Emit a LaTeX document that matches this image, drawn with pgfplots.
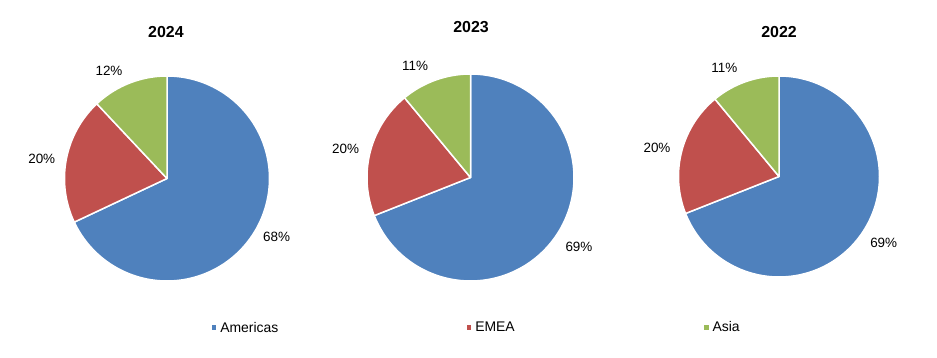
\documentclass[border=0pt]{standalone}
\usepackage{pgfplots}
\pgfplotsset{compat=1.18}
\usepackage{pgfplotstable}
\usepackage{fontspec}
\setmainfont{Liberation Sans}
\definecolor{amer}{HTML}{4F81BD}
\definecolor{emea}{HTML}{C0504D}
\definecolor{asia}{HTML}{9BBB59}

\pgfplotstableread{
region   y2024 y2023 y2022
Americas 68    69    69
EMEA     20    20    20
Asia     12    11    11
}\shares

\pgfplotsset{
  pieaxis/.style={
    anchor=center, scale only axis, hide axis, clip=false,
    xmin=-1, xmax=1, ymin=-1, ymax=1,
    legend image code/.code={\fill[##1, draw=none] (0bp,-2.3bp) rectangle (4.6bp,2.3bp);},
    legend style={draw=none, fill=none, inner sep=0pt, anchor=west,
      font=\fontsize{14}{16}\selectfont,
      nodes={inner xsep=4bp, inner ysep=0bp}},
  },
  slice/.style={draw=white, line width=1.5bp, line join=round, samples=120, variable=\t, forget plot},
}
\newcommand\lab{\fontsize{13.5}{16}\selectfont}
\newcommand\ttl{\fontsize{16}{18}\selectfont\bfseries}

\begin{document}
\begin{tikzpicture}
\useasboundingbox (0,0) rectangle (937bp,358bp);
% angles from the data
\pgfplotstablegetelem{2}{y2024}\of\shares \pgfmathsetmacro\AsiaEndA{90+3.6*\pgfplotsretval}
\pgfplotstablegetelem{1}{y2024}\of\shares \pgfmathsetmacro\EmeaEndA{\AsiaEndA+3.6*\pgfplotsretval}
\pgfplotstablegetelem{2}{y2023}\of\shares \pgfmathsetmacro\AsiaEndB{90+3.6*\pgfplotsretval}
\pgfplotstablegetelem{1}{y2023}\of\shares \pgfmathsetmacro\EmeaEndB{\AsiaEndB+3.6*\pgfplotsretval}
\pgfplotstablegetelem{2}{y2022}\of\shares \pgfmathsetmacro\AsiaEndC{90+3.6*\pgfplotsretval}
\pgfplotstablegetelem{1}{y2022}\of\shares \pgfmathsetmacro\EmeaEndC{\AsiaEndC+3.6*\pgfplotsretval}

% ---- 2024
\begin{axis}[pieaxis, at={(167bp,179.5bp)}, width=205bp, height=205bp,
  legend style={at={(0.717,-0.228)}}]
\addlegendimage{fill=amer}\addlegendentry{Americas}
\addplot[slice, fill=amer, domain=\EmeaEndA:450] ({cos(\t)},{sin(\t)}) -- (axis cs:0,0) -- cycle;
\addplot[slice, fill=emea, domain=\AsiaEndA:\EmeaEndA] ({cos(\t)},{sin(\t)}) -- (axis cs:0,0) -- cycle;
\addplot[slice, fill=asia, domain=90:\AsiaEndA] ({cos(\t)},{sin(\t)}) -- (axis cs:0,0) -- cycle;
\node[font=\lab] at (axis cs:-0.566,1.052) {12\%};
\node[font=\lab] at (axis cs:-1.222,0.190) {20\%};
\node[font=\lab] at (axis cs:1.070,-0.568) {68\%};
\node[font=\ttl] at (axis cs:-0.01,1.429) {2024};
\end{axis}

% ---- 2023
\begin{axis}[pieaxis, at={(470.5bp,180.5bp)}, width=207bp, height=207bp,
  legend style={at={(0.4805,-0.2255)}}]
\addlegendimage{fill=emea}\addlegendentry{EMEA}
\addplot[slice, fill=amer, domain=\EmeaEndB:450] ({cos(\t)},{sin(\t)}) -- (axis cs:0,0) -- cycle;
\addplot[slice, fill=emea, domain=\AsiaEndB:\EmeaEndB] ({cos(\t)},{sin(\t)}) -- (axis cs:0,0) -- cycle;
\addplot[slice, fill=asia, domain=90:\AsiaEndB] ({cos(\t)},{sin(\t)}) -- (axis cs:0,0) -- cycle;
\node[font=\lab] at (axis cs:-0.536,1.077) {11\%};
\node[font=\lab] at (axis cs:-1.206,0.272) {20\%};
\node[font=\lab] at (axis cs:1.048,-0.674) {69\%};
\node[font=\ttl] at (axis cs:0.005,1.454) {2023};
\end{axis}

% ---- 2022
\begin{axis}[pieaxis, at={(779bp,181.5bp)}, width=201bp, height=201bp,
  legend style={at={(0.1255,-0.252)}}]
\addlegendimage{fill=asia}\addlegendentry{Asia}
\addplot[slice, fill=amer, domain=\EmeaEndC:450] ({cos(\t)},{sin(\t)}) -- (axis cs:0,0) -- cycle;
\addplot[slice, fill=emea, domain=\AsiaEndC:\EmeaEndC] ({cos(\t)},{sin(\t)}) -- (axis cs:0,0) -- cycle;
\addplot[slice, fill=asia, domain=90:\AsiaEndC] ({cos(\t)},{sin(\t)}) -- (axis cs:0,0) -- cycle;
\node[font=\lab] at (axis cs:-0.544,1.077) {11\%};
\node[font=\lab] at (axis cs:-1.214,0.281) {20\%};
\node[font=\lab] at (axis cs:1.042,-0.665) {69\%};
\node[font=\ttl] at (axis cs:0,1.438) {2022};
\end{axis}
\end{tikzpicture}
\end{document}
